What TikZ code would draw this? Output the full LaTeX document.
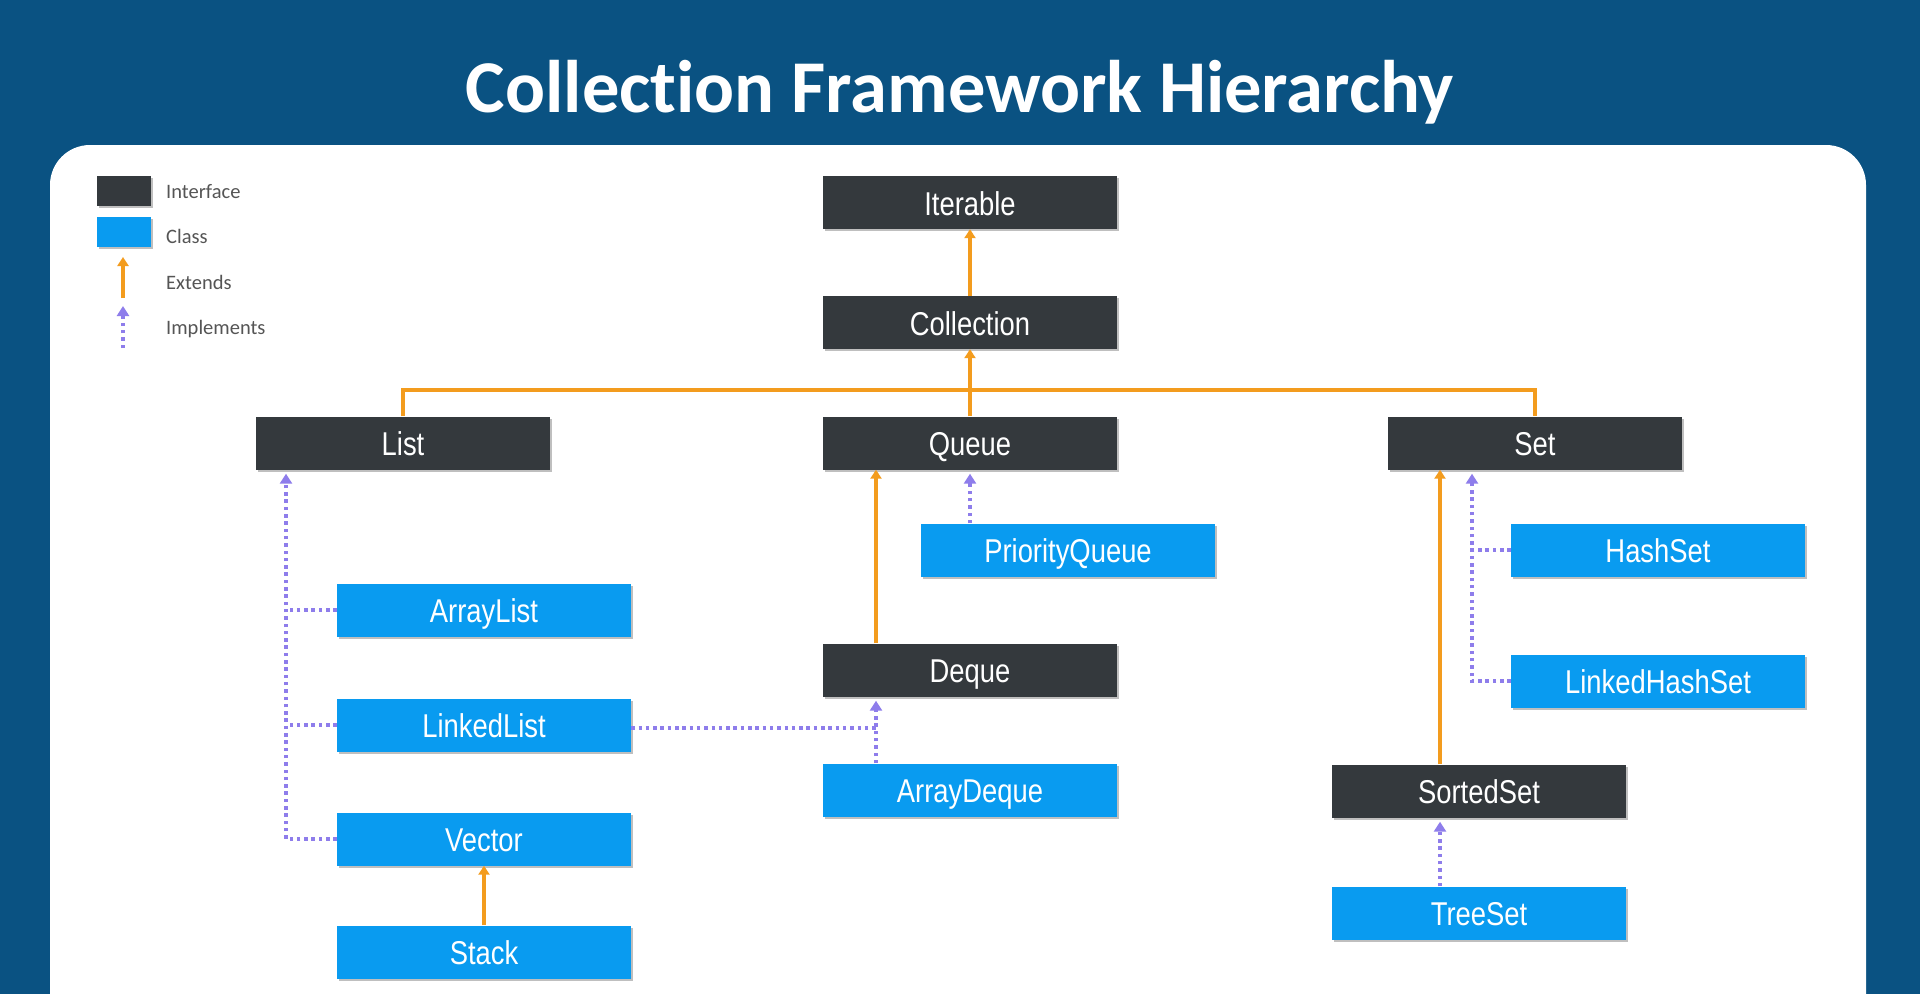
\documentclass[tikz,border=0pt]{standalone}
\usepackage{fontspec}
\setmainfont{Carlito}
\newfontfamily\titlefont[Ligatures=NoCommon]{Carlito}
\newfontfamily\legendfont[Ligatures=NoCommon]{Carlito}
\newfontfamily\boxfont[FakeStretch=0.83]{Liberation Sans}
\usetikzlibrary{arrows.meta,shadows}
\definecolor{bgblue}{HTML}{0A5282}
\definecolor{ifc}{HTML}{34393D}
\definecolor{clc}{HTML}{099BF0}
\definecolor{orc}{HTML}{F39C1E}
\definecolor{puc}{HTML}{8E7DEB}
\definecolor{lgray}{HTML}{555555}
\tikzset{
  box/.style={minimum width=294pt, minimum height=53pt, inner sep=0pt,
    text height=25pt, text depth=0pt,
    text=white, font=\boxfont\fontsize{33}{38}\selectfont,
    drop shadow={shadow xshift=2pt, shadow yshift=-2pt, opacity=0.25, fill=black}},
  iface/.style={box, fill=ifc},
  cls/.style={box, fill=clc},
  extline/.style={draw=orc, line width=3.5pt},
  ext/.style={extline, -{Triangle[width=11pt,length=9pt]}},
  implline/.style={draw=puc, line width=3.5pt, dash pattern=on 3.5pt off 3.8pt},
  impl/.style={implline, -{Triangle[width=12pt,length=10pt]}, shorten >=4pt},
  legtext/.style={anchor=base west, inner sep=0pt, text=lgray, font=\legendfont\fontsize{20.5}{24}\selectfont},
  legbox/.style={minimum width=54pt, minimum height=30pt, inner sep=0pt,
    drop shadow={shadow xshift=1.5pt, shadow yshift=-1.5pt, opacity=0.25, fill=black}}
}
\begin{document}
\begin{tikzpicture}[x=1pt,y=-1pt]
\useasboundingbox (0,0) rectangle (1920,994);
\fill[bgblue] (0,0) rectangle (1920,994);
\begin{scope}
\clip (0,0) rectangle (1920,994);
\fill[white, rounded corners=40pt] (50,145) rectangle (1866,1060);
\end{scope}

% title
\node[anchor=base, inner sep=0pt, text=white, font=\titlefont\bfseries\fontsize{74.5}{80}\selectfont] (title) at (960,112) {Collection Framework Hierarchy};

% legend
\node[legbox, fill=ifc] (lgI) at (124,191) {};
\node[legbox, fill=clc] (lgC) at (124,232) {};
\node[legtext] (lgIt) at (166,198) {Interface};
\node[legtext] (lgCt) at (166,243) {Class};
\node[legtext] (lgEt) at (166,289) {Extends};
\node[legtext] (lgMt) at (166,334) {Implements};
\coordinate (leA) at (123,298);
\coordinate (leB) at (123,257);
\coordinate (lmA) at (123,348);
\coordinate (lmB) at (123,306);
\draw[ext] (leA) -- (leB);
\draw[implline, -{Triangle[width=12pt,length=10pt]}] (lmA) -- (lmB);

% interfaces
\node[iface] (Iterable) at (970,202.5) {Iterable};
\node[iface] (Collection) at (970,322.5) {Collection};
\node[iface] (List) at (403,443) {List};
\node[iface] (Queue) at (970,443) {Queue};
\node[iface] (Set) at (1535,443) {Set};
\node[iface] (Deque) at (970,670) {Deque};
\node[iface] (SortedSet) at (1479,791) {SortedSet};

% classes
\node[cls] (PriorityQueue) at (1068,550) {PriorityQueue};
\node[cls] (ArrayList) at (484,610) {ArrayList};
\node[cls] (LinkedList) at (484,725) {LinkedList};
\node[cls] (Vector) at (484,839) {Vector};
\node[cls] (Stack) at (484,952) {Stack};
\node[cls] (ArrayDeque) at (970,790) {ArrayDeque};
\node[cls] (HashSet) at (1658,550) {HashSet};
\node[cls] (LinkedHashSet) at (1658,681) {LinkedHashSet};
\node[cls] (TreeSet) at (1479,913) {TreeSet};

% helper coordinates
\coordinate (hj) at (970,390);
\coordinate (lx) at (286,0);
\coordinate (dx) at (876,0);
\coordinate (sx) at (1440,0);
\coordinate (hx) at (1472,0);

% extends
\draw[ext] (Collection.north) -- (Iterable.south);
\draw[extline] (List.north) |- (hj) -| (Set.north);
\draw[ext] (Queue.north) -- (Collection.south);
\draw[ext] (Stack.north) -- (Vector.south);
\draw[ext] (dx |- Deque.north) -- (dx |- Queue.south);
\draw[ext] (sx |- SortedSet.north) -- (sx |- Set.south);

% implements
\draw[impl] (Vector.west) -| (lx |- List.south);
\draw[implline] (ArrayList.west) -- (lx |- ArrayList.west);
\draw[implline] (LinkedList.west) -- (lx |- LinkedList.west);
\draw[impl] (PriorityQueue.north -| Queue.south) -- (Queue.south);
\draw[impl] (dx |- ArrayDeque.north) -- (dx |- Deque.south);
\draw[implline] ([yshift=-3pt]LinkedList.east) -- ([yshift=-3pt]dx |- LinkedList.east);
\draw[impl] (LinkedHashSet.west) -| (hx |- Set.south);
\draw[implline] (HashSet.west) -- (hx |- HashSet.west);
\draw[impl] (sx |- TreeSet.north) -- (sx |- SortedSet.south);
\end{tikzpicture}
\end{document}
